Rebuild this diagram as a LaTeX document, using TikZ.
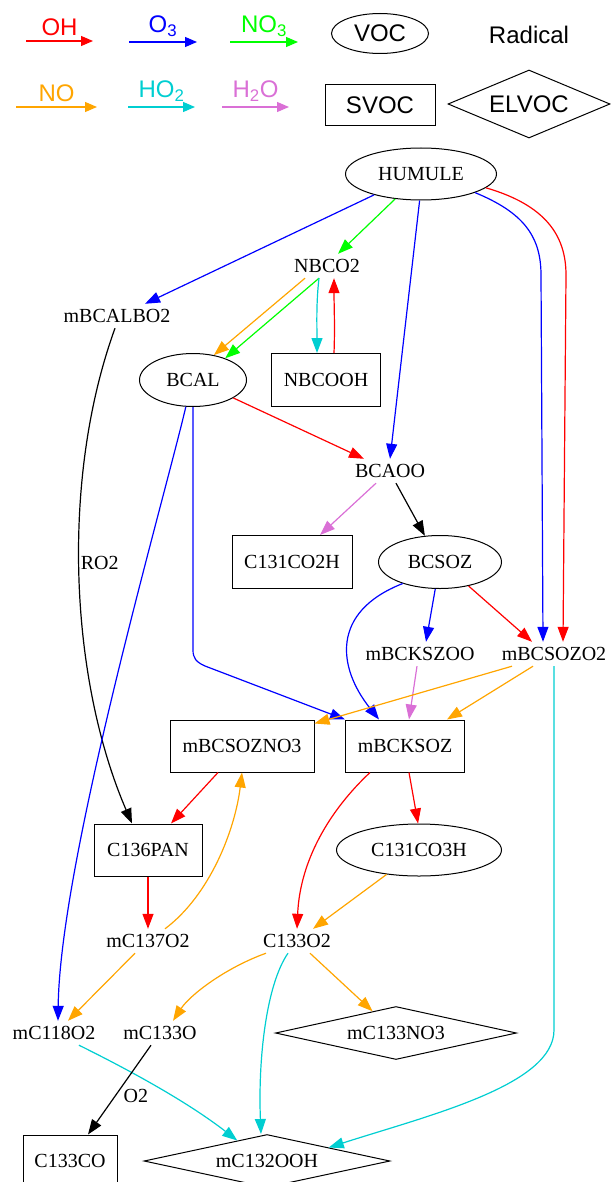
\documentclass[tikz,border=0pt]{standalone}
\usepackage{fontspec}
\setmainfont{Liberation Serif}
\newfontfamily\keyfont{Liberation Sans}
\usetikzlibrary{arrows.meta, shapes.geometric}

\definecolor{ohcol}{RGB}{255,0,0}
\definecolor{ozcol}{RGB}{0,0,255}
\definecolor{nthcol}{RGB}{0,255,0}
\definecolor{nocol}{RGB}{255,165,0}
\definecolor{hocol}{RGB}{0,206,209}
\definecolor{watercol}{RGB}{218,112,214}

\begin{document}
\begin{tikzpicture}[
    x=1pt, y=-1pt,
    >={Triangle[length=15pt, width=11pt]},
    every node/.style={font=\fontsize{20}{24}\selectfont},
    voc/.style={ellipse, draw, line width=1pt, inner sep=0pt},
    svoc/.style={rectangle, draw, line width=1pt, inner sep=0pt},
    elvoc/.style={diamond, draw, line width=1pt, inner sep=0pt, aspect=4.6},
    radical/.style={inner sep=0pt, minimum height=24pt},
    key/.style={font=\keyfont\fontsize{24}{28}\selectfont},
    keylabel/.style={key, above, inner sep=5pt},
    rxn/.style={->, line width=1.2pt},
    keyrx/.style={line width=1.2pt, -{Triangle[length=12pt, width=10pt]}},
    ohrx/.style={rxn, draw=ohcol},
    ozrx/.style={rxn, draw=ozcol},
    nthrx/.style={rxn, draw=nthcol},
    norx/.style={rxn, draw=nocol},
    horx/.style={rxn, draw=hocol},
    waterrx/.style={rxn, draw=watercol}
]
  \useasboundingbox (0,0) rectangle (610,1182);

  % legend
  \coordinate (ohA) at (26,41);    \coordinate (ohB) at (93,41);
  \coordinate (ozA) at (129,42);   \coordinate (ozB) at (197,42);
  \coordinate (nthA) at (230,42);  \coordinate (nthB) at (298,42);
  \coordinate (noA) at (16,107);   \coordinate (noB) at (97,107);
  \coordinate (hoA) at (128,107);  \coordinate (hoB) at (195,107);
  \coordinate (waterA) at (222,107); \coordinate (waterB) at (289,107);

  \draw[keyrx, ohcol] (ohA) -- node[keylabel] (ohkey) {OH} (ohB);
  \draw[keyrx, ozcol] (ozA) -- node[keylabel] (ozkey) {O\textsubscript{3}} (ozB);
  \draw[keyrx, nthcol] (nthA) -- node[keylabel] (nthkey) {NO\textsubscript{3}} (nthB);
  \draw[keyrx, nocol] (noA) -- node[keylabel] (nokey) {NO} (noB);
  \draw[keyrx, hocol] (hoA) -- node[keylabel] (hokey) {HO\textsubscript{2}} (hoB);
  \draw[keyrx, watercol] (waterA) -- node[keylabel] (waterkey) {H\textsubscript{2}O} (waterB);

  \node[voc, key, minimum width=97pt, minimum height=40pt] (vockey) at (380,33.5) {VOC};
  \node[key] (radkey) at (529,35) {Radical};
  \node[svoc, key, minimum width=110pt, minimum height=41pt] (svockey) at (380,105) {SVOC};
  \node[elvoc, key, aspect=2.4, minimum width=162pt, minimum height=68pt] (elvockey) at (529,104) {ELVOC};

  % species
  \node[voc, minimum width=151pt, minimum height=52pt] (humule) at (421,174) {HUMULE};
  \node[radical] (nbco2) at (327,266) {NBCO2};
  \node[radical] (mbcalbo2) at (117,316) {mBCALBO2};
  \node[voc, minimum width=107pt, minimum height=53pt] (bcal) at (193,380) {BCAL};
  \node[svoc, minimum width=109pt, minimum height=53pt] (nbcooh) at (326,380) {NBCOOH};
  \node[radical] (bcaoo) at (390,471) {BCAOO};
  \node[svoc, minimum width=120pt, minimum height=53pt] (c131co2h) at (292,562) {C131CO2H};
  \node[voc, minimum width=123pt, minimum height=53pt] (bcsoz) at (440,562) {BCSOZ};
  \node[radical] (mbckszoo) at (420,654) {mBCKSZOO};
  \node[radical] (mbcsozo2) at (554,654) {mBCSOZO2};
  \node[svoc, minimum width=144pt, minimum height=52pt] (mbcsozno3) at (242,746) {mBCSOZNO3};
  \node[svoc, minimum width=119pt, minimum height=52pt] (mbcksoz) at (405,746) {mBCKSOZ};
  \node[svoc, minimum width=108pt, minimum height=52pt] (c136pan) at (148,850) {C136PAN};
  \node[voc, minimum width=165pt, minimum height=52pt] (c131co3h) at (419,850) {C131CO3H};
  \node[radical] (mc137o2) at (148,941) {mC137O2};
  \node[radical] (c133o2) at (297,941) {C133O2};
  \node[radical] (mc118o2) at (54,1033) {mC118O2};
  \node[radical] (mc133o) at (160,1033) {mC133O};
  \node[elvoc, minimum width=241pt, minimum height=53pt] (mc133no3) at (396,1033) {mC133NO3};
  \node[svoc, minimum width=94pt, minimum height=52pt] (c133co) at (70,1161) {C133CO};
  \node[elvoc, minimum width=246pt, minimum height=53pt] (mc132ooh) at (267,1161) {mC132OOH};

  % reactions
  \draw[ozrx] (humule.204) -- ([xshift=28pt]mbcalbo2.north);
  \draw[nthrx] (humule.224) -- ([xshift=11pt]nbco2.north);
  \draw[ozrx] (humule.267) -- (bcaoo.north);
  \draw[ozrx] (humule.-19) .. controls (522,212) and (541,235) .. (541,275) -- ([xshift=-11pt]mbcsozo2.north);
  \draw[ohrx] (humule.-12) .. controls (545,205) and (566,235) .. (566,275) -- ([xshift=9pt]mbcsozo2.north);

  \draw[norx] ([xshift=-22pt]nbco2.south) -- (bcal.50);
  \draw[nthrx] ([xshift=-8pt]nbco2.south) -- (bcal.34);
  \draw[horx] ([xshift=-8pt]nbco2.south) .. controls +(-3,25) and +(0,-25) .. ([xshift=-9pt]nbcooh.north);
  \draw[ohrx] ([xshift=8pt]nbcooh.north) .. controls +(1,-25) and +(0,25) .. ([xshift=7pt]nbco2.south);

  \draw[rxn] ([xshift=-2pt]mbcalbo2.south) .. controls (60,480) and (70,680) .. ([xshift=-16pt]c136pan.north)
    node[pos=0.47, anchor=west, inner sep=1pt] (rolabel) {RO2};

  \draw[ozrx] (bcal.-105) .. controls (164,500) and (60,860) .. ([xshift=4pt]mc118o2.north);
  \draw[ozrx] (bcal.south) -- (193,650) .. controls (193,658) and (196,662) .. (205,666) -- (mbcksoz.north west);
  \draw[ohrx] (bcal.-24) -- ([xshift=-26pt]bcaoo.north);

  \draw[waterrx] ([xshift=-14pt]bcaoo.south) -- ([xshift=28pt]c131co2h.north);
  \draw[rxn] ([xshift=6pt]bcaoo.south) -- (bcsoz.120);

  \draw[ozrx] (bcsoz.210) .. controls (330,612) and (338,668) .. ([xshift=-26pt]mbcksoz.north);
  \draw[ozrx] (bcsoz.-100) -- ([xshift=6pt]mbckszoo.north);
  \draw[ohrx] (bcsoz.-40) -- ([xshift=-22pt]mbcsozo2.north);

  \draw[waterrx] ([xshift=-3pt]mbckszoo.south) -- ([xshift=4pt]mbcksoz.north);
  \draw[norx] ([xshift=-42pt]mbcsozo2.south) -- ([yshift=-4pt]mbcsozno3.north east);
  \draw[norx] ([xshift=-21pt]mbcsozo2.south) -- ([xshift=42pt]mbcksoz.north);
  \draw[horx] (mbcsozo2.south) -- (554,1030) .. controls (554,1085) and (430,1115) .. (mc132ooh.north east);

  \draw[ohrx] ([xshift=-24pt]mbcsozno3.south) -- ([xshift=23pt]c136pan.north);
  \draw[ohrx] ([xshift=4pt]mbcksoz.south) -- (c131co3h.92);
  \draw[ohrx] ([xshift=-35pt]mbcksoz.south) .. controls (330,810) and (300,860) .. (c133o2.north);
  \draw[ohrx] (c136pan.south) -- (mc137o2.north);

  \draw[norx] ([xshift=17pt]mc137o2.north) .. controls (210,895) and (235,830) .. (mbcsozno3.south);
  \draw[norx] (c131co3h.217) -- ([xshift=16pt]c133o2.north);
  \draw[norx] ([xshift=-13pt]mc137o2.south) -- ([xshift=14pt]mc118o2.north);
  \draw[norx] ([xshift=-31pt]c133o2.south) .. controls (225,968) and (190,995) .. ([xshift=13pt]mc133o.north);
  \draw[norx] ([xshift=13pt]c133o2.south) -- (mc133no3);
  \draw[horx] ([xshift=-9pt]c133o2.south) .. controls (266,985) and (258,1060) .. ([xshift=-6pt]mc132ooh.north);

  \draw[horx] ([xshift=25pt]mc118o2.south) .. controls (125,1068) and (185,1100) .. ([shift={(32,-7)}]mc132ooh.north west);
  \draw[rxn] ([xshift=-9pt]mc133o.south) -- ([xshift=18pt]c133co.north)
    node[pos=0.57, anchor=west, inner sep=1pt, xshift=7pt] (otwolabel) {O2};
\end{tikzpicture}
\end{document}
